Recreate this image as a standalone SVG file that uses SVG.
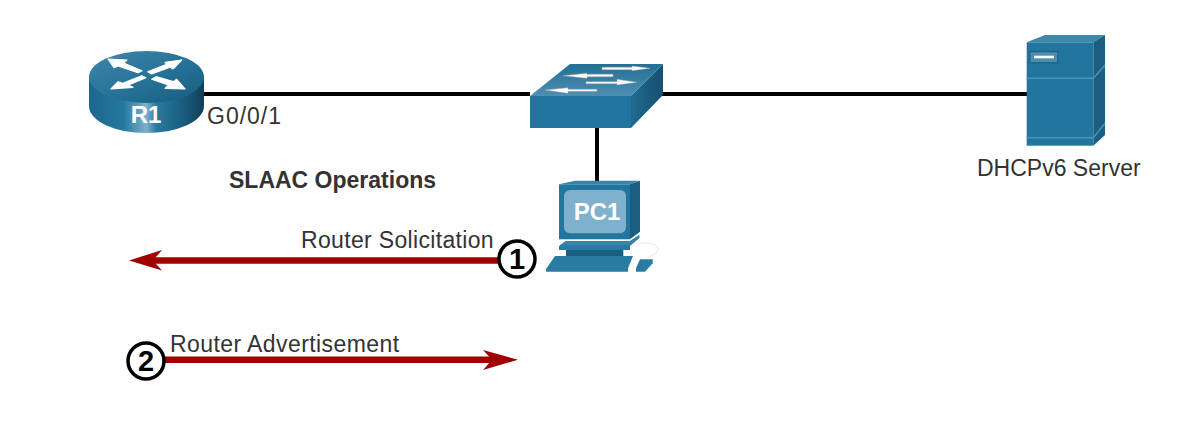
<svg xmlns="http://www.w3.org/2000/svg" width="1181" height="425" viewBox="0 0 1181 425">
<style>
text{font-family:"Liberation Sans",Arial,sans-serif;fill:#333}
.lbl{font-size:23px}
.wire{stroke:#000;stroke-width:4;fill:none}
.flow{stroke:#a00000;stroke-width:6.500;fill:none}
.num{fill:#fff;stroke:#000;stroke-width:3.500}
.numt{font-size:29px;font-weight:700;fill:#000;text-anchor:middle}
.dev{font-weight:700;fill:#fff;text-anchor:middle}
.arw{fill:#fff;stroke:#a8a8a8;stroke-width:.5}
.rarw{fill:#fff;stroke:#fff;stroke-width:1.200;stroke-linejoin:round}
.blue{fill:#21759f}
.side{fill:#1a5e82}
.edge{fill:none;stroke:#4e93b5;stroke-width:1.500}
</style>
<defs>
<linearGradient id="cyl" x1="0" x2="1" y1="0" y2="0">
<stop offset="0" stop-color="#1c668c"/><stop offset=".3" stop-color="#25789f"/><stop offset=".5" stop-color="#7fb0cc"/><stop offset=".58" stop-color="#2a7ba2"/><stop offset=".8" stop-color="#1a5f82"/><stop offset="1" stop-color="#123f58"/>
</linearGradient>
<linearGradient id="rtop" x1="0" x2="1" y1="0" y2="1">
<stop offset="0" stop-color="#3f87ab"/><stop offset=".6" stop-color="#246f95"/><stop offset="1" stop-color="#175a7d"/>
</linearGradient>
<linearGradient id="stop" x1="0" x2="0" y1="0" y2="1">
<stop offset="0" stop-color="#236f96"/><stop offset="1" stop-color="#4c8fb1"/>
</linearGradient>
<linearGradient id="sside" x1="0" x2="1" y1="0" y2="0">
<stop offset="0" stop-color="#1f6b90"/><stop offset="1" stop-color="#174f6e"/>
</linearGradient>
</defs>
<g id="connectors">
<path class="wire" d="M203 94H530M660 94H1028M597 128V182"/>
<path class="flow" d="M500 260.500H150"/>
<path d="M129 260.500L162 250L153 260.500L162 270.500Z" fill="#a00000"/>
<path class="flow" d="M164 359.700H495"/>
<path d="M518 359.700L483 350L492 359.700L483 370Z" fill="#a00000"/>
</g>
<g id="R1">
<path d="M89 77V106C89 121 115 133 146 133C178 133 204 121 204 106V77Z" fill="url(#cyl)"/>
<ellipse cx="146.500" cy="77" rx="57.500" ry="26" fill="url(#rtop)"/>
<path class="rarw" d="M108 59L127 60L123.500 63L142 70.700L138 72.700L118 66L114 67.700Z"/>
<path class="rarw" d="M181.700 60L165 62.300L166.700 64.300L147.700 71.700L151.700 74L170 67.300L173 69Z"/>
<path class="rarw" d="M111 89L118 81.700L122.700 83.300L141.700 75.700L146 77.700L128.300 85L133 87.300Z"/>
<path class="rarw" d="M185 89L165 88.300L168.300 85L151.700 79.300L156 76.700L173.300 81.700L176.700 79.300Z"/>
<text class="dev" x="146" y="123" font-size="24">R1</text>
</g>
<text class="lbl" x="207" y="124" style="letter-spacing:1px">G0/0/1</text>
<g id="Switch">
<path d="M530 96L570 64H663L631 96Z" fill="url(#stop)"/>
<path d="M631 96L663 64V95L631 128Z" fill="url(#sside)"/>
<rect x="530" y="96" width="101" height="32" class="blue"/>
<path class="arw" d="M602 67.300H632V66L650 68.300L632 70.700V69.700H602Z"/>
<path class="arw" d="M613 74.300H587V73.300L563 75.700L587 78.300V76.700H613Z"/>
<path class="arw" d="M586 81.700H617V79.300L637 82.300L617 85V83.700H586Z"/>
<path class="arw" d="M597 89.300H568V87.700L545 90L568 93.300V91.300H597Z"/>
</g>
<g id="PC1">
<path d="M559 184.300L575 180.700H640L630 184.300Z" fill="#3a84a8"/>
<path d="M630 184.300L640 180.700V231.700L630 239.300Z" class="side"/>
<rect x="559" y="184.300" width="71" height="55" class="blue"/>
<rect x="564" y="190" width="62" height="43.300" rx="6" fill="#7fb0cc"/>
<text class="dev" x="597" y="220" font-size="24">PC1</text>
<path d="M559 246L566 241H630L639.300 235V238L630 246V250H559Z" fill="#2a7ba2"/>
<path d="M566 241H630L639.300 235V238L630 245H560Z" fill="#3a84a8"/>
<rect x="566" y="250" width="57.300" height="6" class="side"/>
<path d="M555 256H633L628 268.300V271.700H546V269Z" fill="#2a7ba2"/>
<path d="M640 259.300H652.700V263.300L645 271.700H636V268.300Z" fill="#2a7ba2"/>
<path d="M636.700 244C650 241 660 245 657.500 251C655 256 650 255 647 258.300" fill="none" stroke="#cfe1ea" stroke-width=".7"/>
</g>
<g id="DHCPv6-Server">
<path d="M1026.700 42.300L1045 35H1105L1093.300 42.300Z" fill="#3f88ac"/>
<path d="M1093.300 42.300L1105 35V135L1093.300 145.700Z" class="side"/>
<rect x="1026.700" y="42.300" width="66.600" height="103.400" class="blue"/>
<path class="edge" d="M1026.700 78.300H1093.300L1105 65"/>
<path class="edge" d="M1026.700 137.700H1093.300L1105 123.300"/>
<rect x="1030" y="51.700" width="27.700" height="11" fill="#4a8fb0" stroke="#1a5e82"/>
<rect x="1034" y="55.700" width="20" height="2.600" fill="#fff"/>
</g>
<text class="lbl" x="977" y="176">DHCPv6 Server</text>
<text x="229" y="188" font-size="23" font-weight="700">SLAAC Operations</text>
<text class="lbl" x="301" y="248" style="letter-spacing:.33px">Router Solicitation</text>
<text class="lbl" x="170" y="352" style="letter-spacing:.42px">Router Advertisement</text>
<g id="step-1">
<circle class="num" cx="517" cy="259" r="18"/>
<text class="numt" x="517" y="269">1</text>
</g>
<g id="step-2">
<circle class="num" cx="146" cy="361" r="18"/>
<text class="numt" x="146" y="371">2</text>
</g>
</svg>
